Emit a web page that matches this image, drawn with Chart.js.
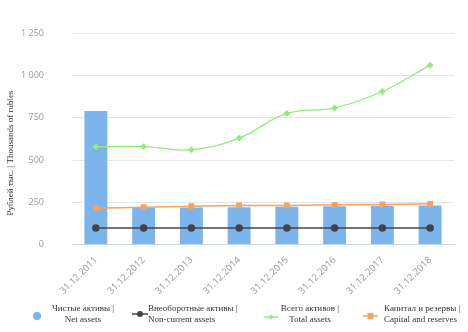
<!DOCTYPE html>
<html>
<head>
<meta charset="utf-8">
<script src="https://cdn.jsdelivr.net/npm/chart.js@4/dist/chart.umd.min.js"></script>
<style>
  html, body { margin: 0; padding: 0; background: #ffffff; }
  #wrap { position: relative; width: 468px; height: 332px; overflow: hidden; }
  #c { position: absolute; left: 0; top: 0; }
  .ytitle { position: absolute; left: 10px; top: 153px; transform: translate(-50%, -50%) rotate(-90deg);
            font-family: "Liberation Serif", serif; font-size: 9px; color: #333; white-space: nowrap; }
  .leg { position: absolute; font-family: "Liberation Serif", serif; font-size: 9px; line-height: 11px;
         color: #333; white-space: nowrap; }
  .icon { position: absolute; }
</style>
</head>
<body>
<div id="wrap">
  <canvas id="c" width="468" height="332"></canvas>
  <div class="ytitle" id="ytitle"></div>
  <div id="legend"></div>
</div>
<script>
const categories = ['31.12.2011', '31.12.2012', '31.12.2013', '31.12.2014', '31.12.2015', '31.12.2016', '31.12.2017', '31.12.2018'];
const netAssets = [790, 217, 219, 221, 224, 227, 229, 231];
const nonCurrentAssets = [98, 98, 98, 98, 98, 98, 98, 98];
const totalAssets = [579, 580, 561, 630, 776, 809, 906, 1062];
const capitalReserves = [215, 221, 227, 231, 231, 235, 237, 241];
const yTicks = [0, 250, 500, 750, 1000, 1250];
const seriesNames = [
  ['Чистые активы |', 'Net assets'],
  ['Внеоборотные активы |', 'Non-current assets'],
  ['Всего активов |', 'Total assets'],
  ['Капитал и резервы |', 'Capital and reserves']
];
const yTitle = 'Рублей тыс. | Thousands of rubles';

const C_BLUE = '#7cb5ec', C_DARK = '#434348', C_GREEN = '#90ed7d', C_ORANGE = '#f7a35c';

document.getElementById('ytitle').textContent = yTitle;

const fmt = v => String(v).replace(/\B(?=(\d{3})+(?!\d))/g, ' ');

new Chart(document.getElementById('c'), {
  data: {
    labels: categories,
    datasets: [
      { type: 'bar', label: seriesNames[0].join(' '), data: netAssets, backgroundColor: C_BLUE,
        categoryPercentage: 1, barPercentage: 0.48, order: 10 },
      { type: 'line', label: seriesNames[1].join(' '), data: nonCurrentAssets, borderColor: C_DARK,
        backgroundColor: C_DARK, borderWidth: 1.5, pointRadius: 3, pointStyle: 'circle', tension: 0, order: 3 },
      { type: 'line', label: seriesNames[2].join(' '), data: totalAssets, borderColor: C_GREEN,
        backgroundColor: C_GREEN, borderWidth: 1.3, pointRadius: 2.5, pointStyle: 'rectRot', tension: 0.4, order: 1 },
      { type: 'line', label: seriesNames[3].join(' '), data: capitalReserves, borderColor: C_ORANGE,
        backgroundColor: C_ORANGE, borderWidth: 1.5, pointRadius: 3, pointStyle: 'rect', tension: 0, order: 2 }
    ]
  },
  options: {
    responsive: false,
    animation: false,
    layout: { padding: { top: 30, right: 14, bottom: 0, left: 0 } },
    plugins: { legend: { display: false }, tooltip: { enabled: false } },
    scales: {
      x: {
        grid: { display: false, drawTicks: false },
        border: { display: true, color: '#ccd6eb' },
        ticks: { color: '#999', font: { family: 'Open Sans', size: 9.5 }, minRotation: 45, maxRotation: 45, padding: 10 },
        afterFit: s => { s.height = 87.5; }
      },
      y: {
        min: 0, max: 1250,
        afterBuildTicks: s => { s.ticks = yTicks.map(v => ({ value: v })); },
        grid: { color: '#e6e6e6', drawTicks: false },
        border: { display: false },
        ticks: { color: '#999', font: { family: 'Open Sans', size: 9 }, padding: 28, callback: v => fmt(v) },
        afterFit: s => { s.width = 72; }
      }
    }
  }
});

// HTML legend
const legend = document.getElementById('legend');
function svgIcon(x, y, w, h, inner) {
  const d = document.createElement('div');
  d.className = 'icon';
  d.style.left = x + 'px'; d.style.top = y + 'px';
  d.innerHTML = '<svg width="' + w + '" height="' + h + '">' + inner + '</svg>';
  legend.appendChild(d);
}
function text(lines, x, y, align) {
  const d = document.createElement('div');
  d.className = 'leg';
  d.style.top = y + 'px';
  d.style.textAlign = align;
  if (align === 'center') { d.style.left = x + 'px'; d.style.transform = 'translateX(-50%)'; }
  else { d.style.left = x + 'px'; }
  d.innerHTML = lines.join('<br>');
  legend.appendChild(d);
}
svgIcon(32, 307, 10, 10, '<circle cx="5" cy="5" r="4.2" fill="' + C_BLUE + '"/>');
text(seriesNames[0], 83, 302.5, 'center');
svgIcon(132, 305, 16, 10, '<line x1="0" y1="5" x2="16" y2="5" stroke="' + C_DARK + '" stroke-width="1.5"/><circle cx="8" cy="5" r="3" fill="' + C_DARK + '"/>');
text(seriesNames[1], 148, 302.5, 'left');
svgIcon(264, 308, 14, 10, '<line x1="0" y1="5" x2="14" y2="5" stroke="' + C_GREEN + '" stroke-width="1.5"/><path d="M7 2.5 L9.5 5 L7 7.5 L4.5 5 Z" fill="' + C_GREEN + '"/>');
text(seriesNames[2], 310, 302.5, 'center');
svgIcon(363, 307, 15, 10, '<line x1="0" y1="5" x2="15" y2="5" stroke="' + C_ORANGE + '" stroke-width="1.5"/><rect x="4.5" y="2" width="6" height="6" fill="' + C_ORANGE + '"/>');
text(seriesNames[3], 384, 302.5, 'left');
</script>
</body>
</html>
